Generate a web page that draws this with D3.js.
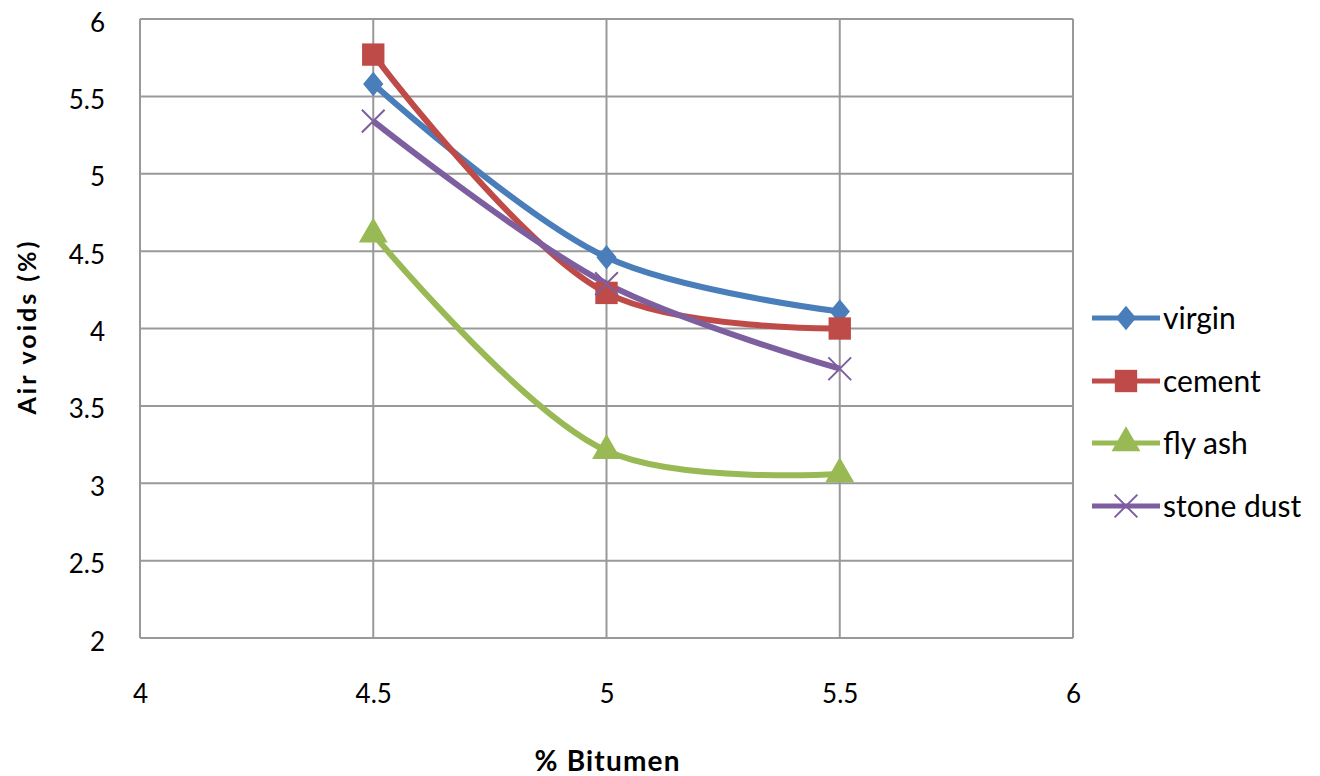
<!DOCTYPE html>
<html><head><meta charset="utf-8">
<script src="https://cdn.jsdelivr.net/npm/d3@7"></script>
<style>body{margin:0;background:#fff}svg{display:block}text{font-family:Lato,"Open Sans",sans-serif;fill:#000}</style>
</head><body><svg id="c" width="1320" height="776"></svg>
<script>
const bitumen = [4.5, 5, 5.5];
const seriesNames = ["virgin", "cement", "fly ash", "stone dust"];
const virgin = [5.58, 4.46, 4.11];
const cement = [5.77, 4.23, 4.00];
const flyAsh = [4.61, 3.21, 3.06];
const stoneDust = [5.34, 4.29, 3.74];
const xTicks = [4, 4.5, 5, 5.5, 6];
const yTicks = [2, 2.5, 3, 3.5, 4, 4.5, 5, 5.5, 6];

const svg = d3.select("#c");
const x = d3.scaleLinear().domain([4, 6]).range([140, 1073]);
const y = d3.scaleLinear().domain([2, 6]).range([638, 19]);
const grid = "#999";

svg.append("g").selectAll("line").data(yTicks).join("line")
  .attr("x1", 140).attr("x2", 1073).attr("y1", d => y(d)).attr("y2", d => y(d))
  .attr("stroke", grid).attr("stroke-width", 2);
svg.append("g").selectAll("line").data(xTicks).join("line")
  .attr("y1", 19).attr("y2", 638).attr("x1", d => x(d)).attr("x2", d => x(d))
  .attr("stroke", grid).attr("stroke-width", 2);

const yAxis = d3.axisLeft(y).tickValues(yTicks).tickSize(0).tickPadding(0).tickFormat(d3.format("~g"));
svg.append("g").attr("transform", "translate(105,3)").call(yAxis)
  .call(g => g.select(".domain").remove())
  .selectAll("text").attr("font-size", 26).attr("font-family", "Lato").attr("fill", "#000").attr("dy", "0.35em");
const xAxis = d3.axisBottom(x).tickValues(xTicks).tickSize(0).tickPadding(0).tickFormat(d3.format("~g"));
svg.append("g").attr("transform", "translate(0,685)").call(xAxis)
  .call(g => g.select(".domain").remove())
  .selectAll("text").attr("font-size", 26).attr("font-family", "Lato").attr("fill", "#000").attr("dy", "0.71em");

svg.append("text").attr("x", 607).attr("y", 771).attr("text-anchor", "middle")
  .attr("font-size", 28).attr("font-weight", "bold")
  .attr("textLength", 145).attr("lengthAdjust", "spacing").text("% Bitumen");
svg.append("text").attr("transform", "translate(36,328) rotate(-90)").attr("text-anchor", "middle")
  .attr("font-size", 25).attr("font-weight", "bold")
  .attr("textLength", 173).attr("lengthAdjust", "spacing").text("Air voids  (%)");

const data = [virgin, cement, flyAsh, stoneDust];
const colors = ["#4A7EBB", "#BE4B48", "#98B954", "#7D5FA0"];
const symbols = [d3.symbolDiamond, d3.symbolSquare, d3.symbolTriangle, d3.symbolX];
const sizes = [270, 500, 360, 340];

const line = d3.line().x((d, i) => x(bitumen[i])).y(d => y(d)).curve(d3.curveCatmullRom.alpha(0.5));

function marker(g, k, cx, cy) {
  const s = d3.symbol().type(symbols[k]).size(sizes[k]);
  const p = g.append("path").attr("d", s()).attr("transform", `translate(${cx},${cy})` + (k === 0 ? " scale(1.15,0.8)" : ""));
  if (k === 3) p.attr("fill", "none").attr("stroke", colors[k]).attr("stroke-width", 2);
  else p.attr("fill", colors[k]);
}

data.forEach((vals, k) => {
  svg.append("path").datum(vals).attr("d", line).attr("fill", "none")
    .attr("stroke", colors[k]).attr("stroke-width", 6).attr("stroke-linejoin", "round");
});
data.forEach((vals, k) => {
  const g = svg.append("g");
  vals.forEach((v, i) => marker(g, k, x(bitumen[i]), y(v)));
});

const legY = [318, 381, 443, 506];
seriesNames.forEach((n, k) => {
  const g = svg.append("g");
  g.append("line").attr("x1", 1092).attr("x2", 1160).attr("y1", legY[k]).attr("y2", legY[k])
    .attr("stroke", colors[k]).attr("stroke-width", 5);
  marker(g, k, 1126, legY[k]);
  g.append("text").attr("x", 1163).attr("y", legY[k]).attr("dy", "0.35em").attr("font-size", 30).text(n);
});
</script></body></html>
